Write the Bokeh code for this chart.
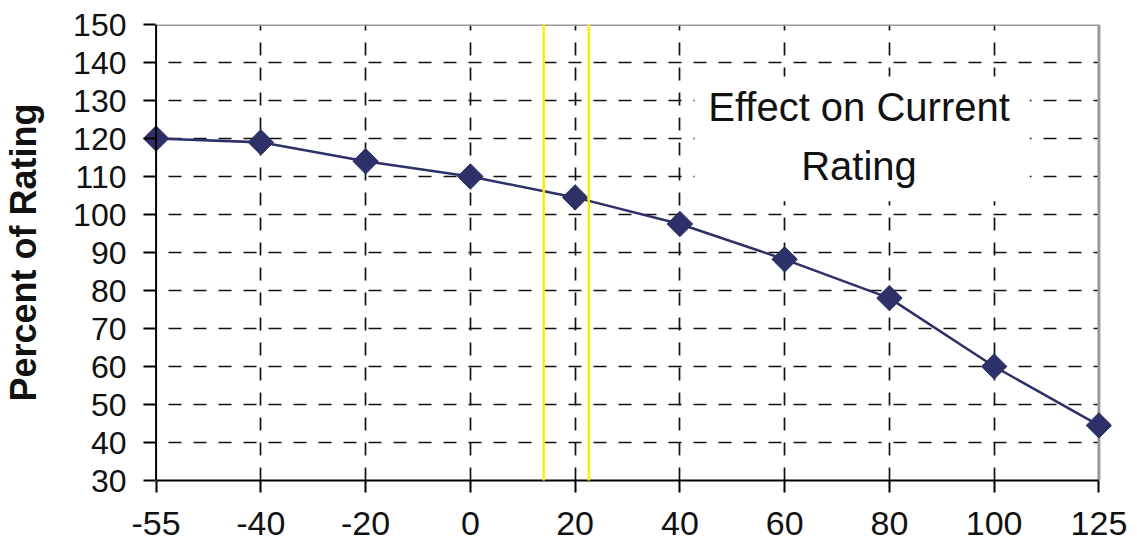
import numpy as np
from bokeh.plotting import figure
from bokeh.models import FixedTicker, Range1d, Label, Arrow, BoxAnnotation, Span
from bokeh.embed import file_html
from bokeh.resources import INLINE

# ---- data ----
temperatures = ["-55", "-40", "-20", "0", "20", "40", "60", "80", "100", "125"]
percent_rating = [120, 119, 114, 110, 104.5, 97.5, 88.2, 78, 60, 44.5]
y_ticks = [30, 40, 50, 60, 70, 80, 90, 100, 110, 120, 130, 140, 150]
highlight_positions = [3.70, 4.13]   # yellow marker lines (category index units)
title_text = "Effect on Current\nRating"

x_pos = list(range(len(temperatures)))
X_MIN, X_MAX = x_pos[0], x_pos[-1]
Y_MIN, Y_MAX = y_ticks[0], y_ticks[-1]
PAD = 0.12

LINE_COLOR = "#2E3068"
GRID_COLOR = "#111111"
FONT = "Liberation Sans"

p = figure(width=1137, height=548,
           x_range=Range1d(X_MIN - PAD, X_MAX + PAD),
           y_range=Range1d(Y_MIN, Y_MAX),
           output_backend="svg", toolbar_location=None,
           min_border_left=142, min_border_right=26,
           min_border_top=24, min_border_bottom=68)
p.outline_line_color = None
p.background_fill_color = "white"
p.border_fill_color = "white"

# grids
p.xgrid.ticker = FixedTicker(ticks=x_pos[1:-1])
p.ygrid.ticker = FixedTicker(ticks=y_ticks[1:-1])
for g in (p.xgrid, p.ygrid):
    g.grid_line_color = GRID_COLOR
    g.grid_line_width = 1.7
    g.grid_line_dash = "13 12"

# white masks hiding grid overhang outside [X_MIN, X_MAX]
for kw in (dict(right=X_MIN), dict(left=X_MAX)):
    p.add_layout(BoxAnnotation(fill_color="white", fill_alpha=1, line_color=None,
                               level="underlay", **kw))

# white box behind the annotation text (hides the grid there)
p.add_layout(BoxAnnotation(left=5.14, right=8.34, top=136.3, bottom=103.5,
                           fill_color="white", fill_alpha=1, line_color=None,
                           level="underlay"))

# axes
p.xaxis.ticker = FixedTicker(ticks=x_pos)
p.xaxis.major_label_overrides = {i: t for i, t in zip(x_pos, temperatures)}
p.xaxis.bounds = (X_MIN, X_MAX)
p.xaxis.axis_line_color = "black"
p.xaxis.axis_line_width = 2
p.xaxis.major_tick_out = 12
p.xaxis.major_tick_in = 0
p.xaxis.major_label_text_font_size = "34px"
p.xaxis.major_label_standoff = 19

p.yaxis.ticker = FixedTicker(ticks=y_ticks)
p.yaxis.bounds = (Y_MIN, Y_MAX)
p.yaxis.axis_line_color = None
p.yaxis.major_tick_out = 0
p.yaxis.major_tick_in = 12
p.yaxis.major_label_text_font_size = "32px"
p.yaxis.major_label_standoff = 17

for ax in (p.xaxis, p.yaxis):
    ax.major_tick_line_color = "black"
    ax.major_tick_line_width = 2
    ax.minor_tick_line_color = None
    ax.major_label_text_font = FONT
    ax.major_label_text_color = "#111111"

p.yaxis.axis_label = "Percent of Rating"
p.yaxis.axis_label_text_font = FONT
p.yaxis.axis_label_text_font_style = "bold"
p.yaxis.axis_label_text_font_size = "36px"
p.yaxis.axis_label_text_color = "#111111"
p.yaxis.axis_label_standoff = 26

# left axis line at the first category
p.add_layout(Span(location=X_MIN, dimension="height", line_color="black", line_width=2))

# top and right gray frame lines
p.segment(x0=[X_MIN, X_MAX], y0=[Y_MAX, Y_MIN], x1=[X_MAX, X_MAX], y1=[Y_MAX, Y_MAX],
          line_color="#9a9a9a", line_width=3)

# data series
p.line(x_pos, percent_rating, line_color=LINE_COLOR, line_width=2.5)
p.scatter(x_pos, percent_rating, marker="square", angle=np.pi / 4, size=18,
          fill_color=LINE_COLOR, line_color=LINE_COLOR)

# annotation text
lab = Label(x=6.71, y=120.5, text=title_text, text_align="center", text_baseline="middle",
            text_font=FONT, text_font_size="40px", text_color="#111111",
            text_line_height=1.35)
p.add_layout(lab)

# yellow vertical marker lines
for xp in highlight_positions:
    p.add_layout(Arrow(x_start=xp, y_start=Y_MIN - 18, x_end=xp, y_end=Y_MAX + 7, end=None,
                       line_color="#FFEE00", line_width=2.5, level="overlay"))

open("out.html", "w").write(file_html(p, INLINE))
